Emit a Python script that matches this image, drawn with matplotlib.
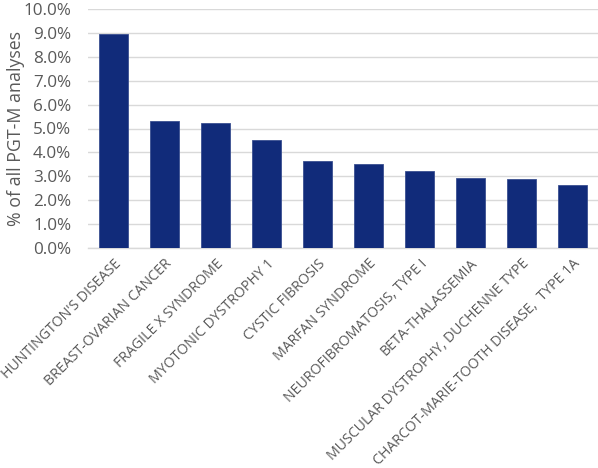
import matplotlib
matplotlib.use("Agg")
import matplotlib.pyplot as plt
from matplotlib.ticker import FuncFormatter

categories = [
    "HUNTINGTON'S DISEASE",
    "BREAST-OVARIAN CANCER",
    "FRAGILE X SYNDROME",
    "MYOTONIC DYSTROPHY 1",
    "CYSTIC FIBROSIS",
    "MARFAN SYNDROME",
    "NEUROFIBROMATOSIS, TYPE I",
    "BETA-THALASSEMIA",
    "MUSCULAR DYSTROPHY, DUCHENNE TYPE",
    "CHARCOT-MARIE-TOOTH DISEASE,  TYPE 1A",
]
values = [8.94, 5.31, 5.24, 4.52, 3.65, 3.53, 3.23, 2.94, 2.87, 2.65]
y_ticks = [0, 1, 2, 3, 4, 5, 6, 7, 8, 9, 10]

plt.rcParams['font.family'] = ['Open Sans', 'DejaVu Sans']
grey = '#595959'

fig = plt.figure(figsize=(5.98, 4.68), dpi=100)
ax = fig.add_axes([88/598, 1-248/468, 510/598, (248-9)/468])

x = list(range(len(categories)))
ax.bar(x, values, width=0.58, color='#112B7A', edgecolor='#3a4f90', linewidth=0.6, zorder=3)

ax.set_xlim(-0.5, len(categories)-0.5)
ax.set_ylim(0, 10)
ax.set_yticks(y_ticks)
ax.yaxis.set_major_formatter(FuncFormatter(lambda v, p: f"{v:.1f}%"))
ax.grid(axis='y', color='#d9d9d9', linewidth=1.0, zorder=0)
ax.set_axisbelow(True)
for s in ['top', 'right', 'left']:
    ax.spines[s].set_visible(False)
ax.spines['bottom'].set_color('#d9d9d9')
ax.spines['bottom'].set_linewidth(1.0)
ax.tick_params(axis='both', length=0, colors=grey)
ax.tick_params(axis='y', pad=12, labelsize=12.3)

ax.set_xticks(x)
ax.set_xticklabels(categories, rotation=45, ha='right', va='top', rotation_mode='anchor',
                   fontsize=10.2, color=grey)
ax.tick_params(axis='x', pad=6)

ax.set_ylabel('% of all PGT-M analyses', fontsize=12.8, color=grey)
ax.yaxis.set_label_coords(-0.124, 0.5)

fig.savefig('out.png', dpi=100)
